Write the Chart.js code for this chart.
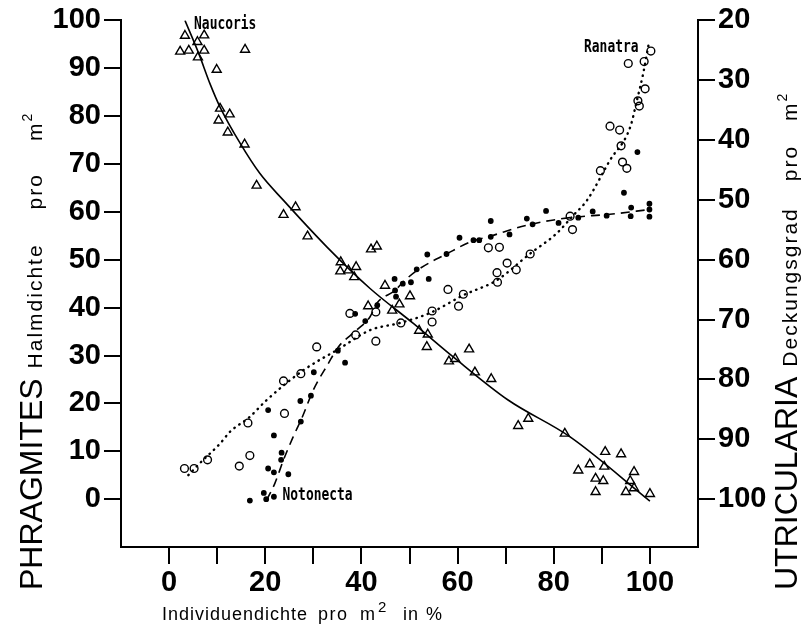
<!DOCTYPE html>
<html>
<head>
<meta charset="utf-8">
<script src="https://cdn.jsdelivr.net/npm/chart.js@4"></script>
<style>
  body { margin: 0; background: #fff; }
  canvas { display: block; }
</style>
</head>
<body>
<canvas id="chart" width="811" height="631"></canvas>
<script>
// --- data (x = Individuendichte %, y = Phragmites Halmdichte) ---
const naucorisX = [2.3, 3.3, 4.1, 5.9, 6.0, 7.3, 7.3, 15.8, 9.9, 10.6, 12.6, 10.3, 12.2, 15.7, 18.2, 26.3, 23.8, 28.8, 35.7, 38.9, 35.6, 37.3, 38.5, 42.0, 43.2, 41.4, 44.9, 50.1, 47.9, 46.4, 52.0, 53.8, 53.6, 62.4, 59.5, 58.2, 63.6, 67.0, 74.7, 72.6, 82.3, 90.7, 94.0, 87.5, 90.5, 85.1, 96.7, 88.7, 90.3, 95.9, 96.7, 88.7, 95.0, 100.0];
const naucorisY = [93.5, 96.8, 93.7, 95.5, 92.3, 96.9, 93.7, 93.9, 89.7, 81.6, 80.4, 79.1, 76.6, 74.1, 65.5, 61.0, 59.4, 54.9, 49.5, 48.5, 47.6, 47.8, 46.4, 52.2, 52.8, 40.3, 44.6, 42.4, 40.7, 39.4, 35.2, 34.4, 31.8, 31.3, 29.3, 28.8, 26.5, 25.1, 16.8, 15.3, 13.7, 9.9, 9.4, 7.3, 6.8, 6.0, 5.7, 4.3, 3.8, 3.8, 2.3, 1.5, 1.5, 1.1];

const ranatraX = [3.2, 5.2, 8.0, 14.6, 16.8, 16.4, 24.0, 23.8, 27.4, 30.7, 37.6, 38.8, 43.0, 43.0, 48.2, 54.7, 54.7, 58.0, 60.2, 61.2, 66.4, 68.7, 68.2, 68.3, 70.3, 72.2, 75.1, 83.4, 83.9, 89.7, 91.7, 93.7, 94.0, 94.3, 95.2, 95.5, 97.5, 97.8, 98.8, 99.0, 100.2];
const ranatraY = [6.4, 6.4, 8.2, 6.9, 9.1, 15.9, 17.9, 24.7, 26.2, 31.8, 38.8, 34.3, 39.1, 33.0, 36.8, 39.3, 37.0, 43.8, 40.3, 42.8, 52.5, 52.6, 47.3, 45.3, 49.3, 47.9, 51.2, 59.1, 56.3, 68.6, 77.9, 77.1, 73.8, 70.4, 69.1, 91.0, 83.2, 82.1, 91.4, 85.7, 93.6];

const notonectaX = [16.8, 19.7, 20.2, 21.8, 20.6, 21.8, 24.8, 23.3, 23.4, 21.8, 20.6, 27.4, 27.3, 29.5, 30.1, 35.1, 36.6, 38.7, 40.8, 43.3, 47.2, 47.0, 46.9, 48.6, 50.3, 51.5, 54.0, 53.7, 57.7, 60.4, 63.3, 64.5, 66.9, 66.9, 70.8, 74.4, 75.6, 78.4, 81.0, 85.1, 88.1, 91.0, 94.6, 96.0, 96.1, 97.4, 99.9, 99.9, 99.9];
const notonectaY = [-0.3, 1.3, 0.0, 0.5, 6.4, 5.6, 5.2, 8.2, 9.7, 13.3, 18.6, 16.2, 20.5, 21.6, 26.5, 31.0, 28.5, 38.7, 37.2, 40.5, 42.3, 43.6, 46.0, 45.0, 45.3, 48.0, 46.0, 51.1, 51.2, 54.6, 54.1, 54.1, 58.1, 54.8, 55.3, 58.6, 57.4, 60.2, 57.7, 58.8, 60.1, 59.2, 64.0, 59.1, 60.9, 72.5, 61.7, 60.5, 59.0];

// fitted curves as drawn in the figure
const naucorisFitX = [3.3, 6.2, 8.5, 10.6, 14.8, 18.9, 23.8, 32.8, 41.8, 50.8, 59.1, 70.5, 83.4, 100];
const naucorisFitY = [100, 93, 86.8, 81.9, 74.3, 68, 62.4, 52.7, 44, 36.7, 29.7, 20.7, 13, -0.4];
const ranatraFitX = [4.0, 6.4, 10.6, 12.7, 16.8, 20.3, 27.9, 35.5, 41.8, 48.0, 54.3, 61.2, 68.1, 75.1, 80.6, 84.1, 86.9, 91.7, 95.9, 97.3, 98.6, 99.7];
const ranatraFitY = [5.0, 7.5, 11.6, 14.1, 17.2, 20.7, 26.9, 31.5, 35.3, 36.8, 38.9, 42.6, 45.7, 51.3, 55.5, 59.3, 62.4, 70.8, 77.7, 83.3, 88.9, 94.8];
const notonectaFitX = [20.3, 22.0, 23.8, 25.8, 27.6, 30.0, 33.1, 35.2, 39.0, 41.8, 43.2, 47.0, 48.7, 52.2, 57.7, 62.6, 66.7, 75.1, 83.4, 91.7, 100];
const notonectaFitY = [-0.2, 3.3, 8.2, 13.0, 16.9, 22.8, 28.3, 31.8, 35.3, 38.1, 40.9, 43.6, 45.4, 48.2, 51.2, 53.7, 54.9, 57.4, 58.8, 59.5, 60.5];

// tick labels
const xTicks = [0, 10, 20, 30, 40, 50, 60, 70, 80, 90, 100];
const phragmitesTicks = [0, 10, 20, 30, 40, 50, 60, 70, 80, 90, 100];
const utriculariaTicks = [20, 30, 40, 50, 60, 70, 80, 90, 100];

const pts = (xs, ys) => xs.map((x, i) => ({ x: x, y: ys[i] }));

Chart.defaults.font.family = '"Liberation Sans", Arial, sans-serif';
Chart.defaults.color = '#000';

const pointSet = (label, xs, ys, style, r, fill) => ({
  label: label,
  data: pts(xs, ys),
  showLine: false,
  pointStyle: style,
  pointRadius: r,
  pointBorderWidth: 1.4,
  pointBorderColor: '#000',
  pointBackgroundColor: fill,
  borderColor: '#000',
  backgroundColor: fill
});

const curveSet = (label, xs, ys, dash, width, cap) => ({
  label: label,
  data: pts(xs, ys),
  showLine: true,
  pointRadius: 0,
  borderColor: '#000',
  borderWidth: width,
  borderDash: dash,
  borderCapStyle: cap,
  cubicInterpolationMode: 'monotone',
  fill: false
});

const tickMarks = (list) => (scale) => { scale.ticks = list.map(v => ({ value: v })); };

const axisGrid = { drawOnChartArea: false, drawTicks: true, tickLength: 17, color: '#000', lineWidth: 2 };
const axisBorder = { display: true, color: '#000', width: 2 };
const tickFont = { size: 29, weight: 'bold' };

// labels of the three species (placed in data units)
const speciesLabels = [
  { text: 'Naucoris', x: 5.2, y: 98.3 },
  { text: 'Ranatra', x: 86.3, y: 93.3 },
  { text: 'Notonecta', x: 23.6, y: -0.2 }
];

const SANS = '"Liberation Sans", Arial, sans-serif';

// draws words along the current x direction; each part either follows the last one (gap) or starts at "at"
function drawRun(ctx, parts) {
  let pos = 0;
  parts.forEach(p => {
    if (p.at !== undefined) pos = p.at;
    pos += p.gap || 0;
    ctx.font = p.font;
    ctx.letterSpacing = p.spacing || '0px';
    ctx.fillText(p.text, pos, -(p.rise || 0));
    pos += ctx.measureText(p.text).width;
  });
  ctx.letterSpacing = '0px';
}

const textPlugin = {
  id: 'textPlugin',
  afterDraw(chart) {
    const ctx = chart.ctx;
    const xs = chart.scales.x, ys = chart.scales.y;
    ctx.save();
    ctx.fillStyle = '#000';
    ctx.textBaseline = 'alphabetic';
    ctx.textAlign = 'left';

    speciesLabels.forEach(l => {
      ctx.save();
      ctx.translate(xs.getPixelForValue(l.x), ys.getPixelForValue(l.y));
      ctx.scale(0.76, 1);
      ctx.font = 'bold 17px "DejaVu Sans Mono", "Liberation Mono", monospace';
      ctx.fillText(l.text, 0, 0);
      ctx.restore();
    });

    const big = '32px ' + SANS;
    const small = '21px ' + SANS;
    const sup = '14px ' + SANS;

    // left title
    ctx.save();
    ctx.translate(42, 590);
    ctx.rotate(-Math.PI / 2);
    drawRun(ctx, [
      { text: 'PHRAGMITES', font: big },
      { text: 'Halmdichte', font: small, gap: 10, spacing: '2px' },
      { text: 'pro', font: small, gap: 34, spacing: '2px' },
      { text: 'm', font: small, gap: 32, spacing: '2px' },
      { text: '2', font: sup, gap: 0, rise: 10 }
    ]);
    ctx.restore();

    // right title
    ctx.save();
    ctx.translate(797, 590);
    ctx.rotate(-Math.PI / 2);
    drawRun(ctx, [
      { text: 'UTRICULARIA', font: big },
      { text: 'Deckungsgrad', font: small, gap: 10, spacing: '2px' },
      { text: 'pro', font: small, gap: 26, spacing: '2px' },
      { text: 'm', font: small, gap: 24, spacing: '2px' },
      { text: '2', font: sup, gap: 0, rise: 10 }
    ]);
    ctx.restore();

    // x title
    ctx.save();
    ctx.translate(0, 620);
    const xf = '18px ' + SANS;
    drawRun(ctx, [
      { text: 'Individuendichte', font: xf, at: 162, spacing: '1px' },
      { text: 'pro', font: xf, at: 318, spacing: '1.5px' },
      { text: 'm', font: xf, at: 360, spacing: '1px' },
      { text: '2', font: '15px ' + SANS, at: 378, rise: 8 },
      { text: 'in', font: xf, at: 403, spacing: '1px' },
      { text: '%', font: xf, at: 426 }
    ]);
    ctx.restore();

    ctx.restore();
  }
};

new Chart(document.getElementById('chart'), {
  type: 'scatter',
  data: {
    datasets: [
      curveSet('Naucoris fit', naucorisFitX, naucorisFitY, [], 1.6, 'butt'),
      curveSet('Ranatra fit', ranatraFitX, ranatraFitY, [0.5, 5.5], 2.4, 'round'),
      curveSet('Notonecta fit', notonectaFitX, notonectaFitY, [9, 6], 1.6, 'butt'),
      pointSet('Naucoris', naucorisX, naucorisY, 'triangle', 5.2, 'rgba(255,255,255,0)'),
      pointSet('Ranatra', ranatraX, ranatraY, 'circle', 3.9, 'rgba(255,255,255,0)'),
      pointSet('Notonecta', notonectaX, notonectaY, 'circle', 2.2, '#000')
    ]
  },
  options: {
    responsive: false,
    animation: false,
    layout: { padding: { top: 20, left: 0, right: 0, bottom: 0 } },
    plugins: {
      legend: { display: false },
      tooltip: { enabled: false }
    },
    scales: {
      x: {
        type: 'linear',
        position: 'bottom',
        min: -10,
        max: 110,
        afterBuildTicks: tickMarks(xTicks),
        afterFit: (s) => { s.height = 84; },
        grid: axisGrid,
        border: axisBorder,
        ticks: {
          autoSkip: false,
          maxRotation: 0,
          padding: 2,
          font: tickFont,
          callback: (v) => (v % 20 === 0 ? v : '')
        }
      },
      y: {
        type: 'linear',
        position: 'left',
        min: -10,
        max: 100,
        afterBuildTicks: tickMarks(phragmitesTicks),
        afterFit: (s) => { s.width = 121; },
        grid: axisGrid,
        border: axisBorder,
        ticks: { padding: 3, font: tickFont }
      },
      y2: {
        type: 'linear',
        position: 'right',
        reverse: true,
        min: 20,
        max: 108,
        afterBuildTicks: tickMarks(utriculariaTicks),
        afterFit: (s) => { s.width = 113; },
        grid: axisGrid,
        border: axisBorder,
        ticks: { padding: 3, font: tickFont }
      }
    }
  },
  plugins: [textPlugin]
});
</script>
</body>
</html>
